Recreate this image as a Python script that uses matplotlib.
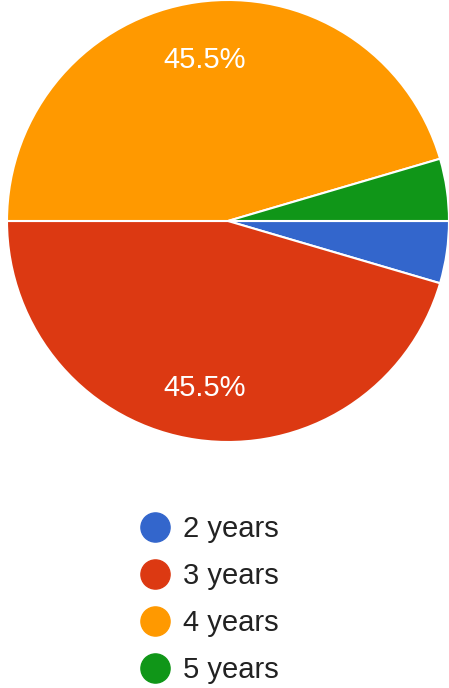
import matplotlib.pyplot as plt
from matplotlib.lines import Line2D

plt.rcParams['font.family'] = ['Liberation Sans', 'DejaVu Sans']

labels = ["2 years", "3 years", "4 years", "5 years"]
counts = [1, 10, 10, 1]
colors = ["#3366cc", "#dc3912", "#ff9900", "#109618"]

fig = plt.figure(figsize=(4.49, 6.88), dpi=100)
ax = fig.add_axes([7 / 449, 1 - 442 / 688, 442 / 449, 442 / 688])


def fmt(p):
    return f"{p:.1f}%" if p > 10 else ""


wedges, texts, autotexts = ax.pie(
    counts, colors=colors, startangle=0, counterclock=False,
    autopct=fmt, pctdistance=0.75,
    wedgeprops=dict(edgecolor="white", linewidth=1.5),
    textprops=dict(color="white", fontsize=21),
)
for t in autotexts:
    t.set_va("center_baseline")
ax.set_xlim(-1, 1)
ax.set_ylim(-1, 1)
ax.set_aspect("equal")

handles = [Line2D([], [], marker="o", linestyle="none", markersize=21,
                  markerfacecolor=c, markeredgecolor=c) for c in colors]
fig.legend(handles, labels, loc="upper left", bbox_to_anchor=(140 / 449, 1 - 515 / 688),
           frameon=False, fontsize=21, labelcolor="#222222",
           labelspacing=0.65, handlelength=1.0, handletextpad=0.46,
           borderpad=0, borderaxespad=0)

fig.savefig("out.png", dpi=100)
